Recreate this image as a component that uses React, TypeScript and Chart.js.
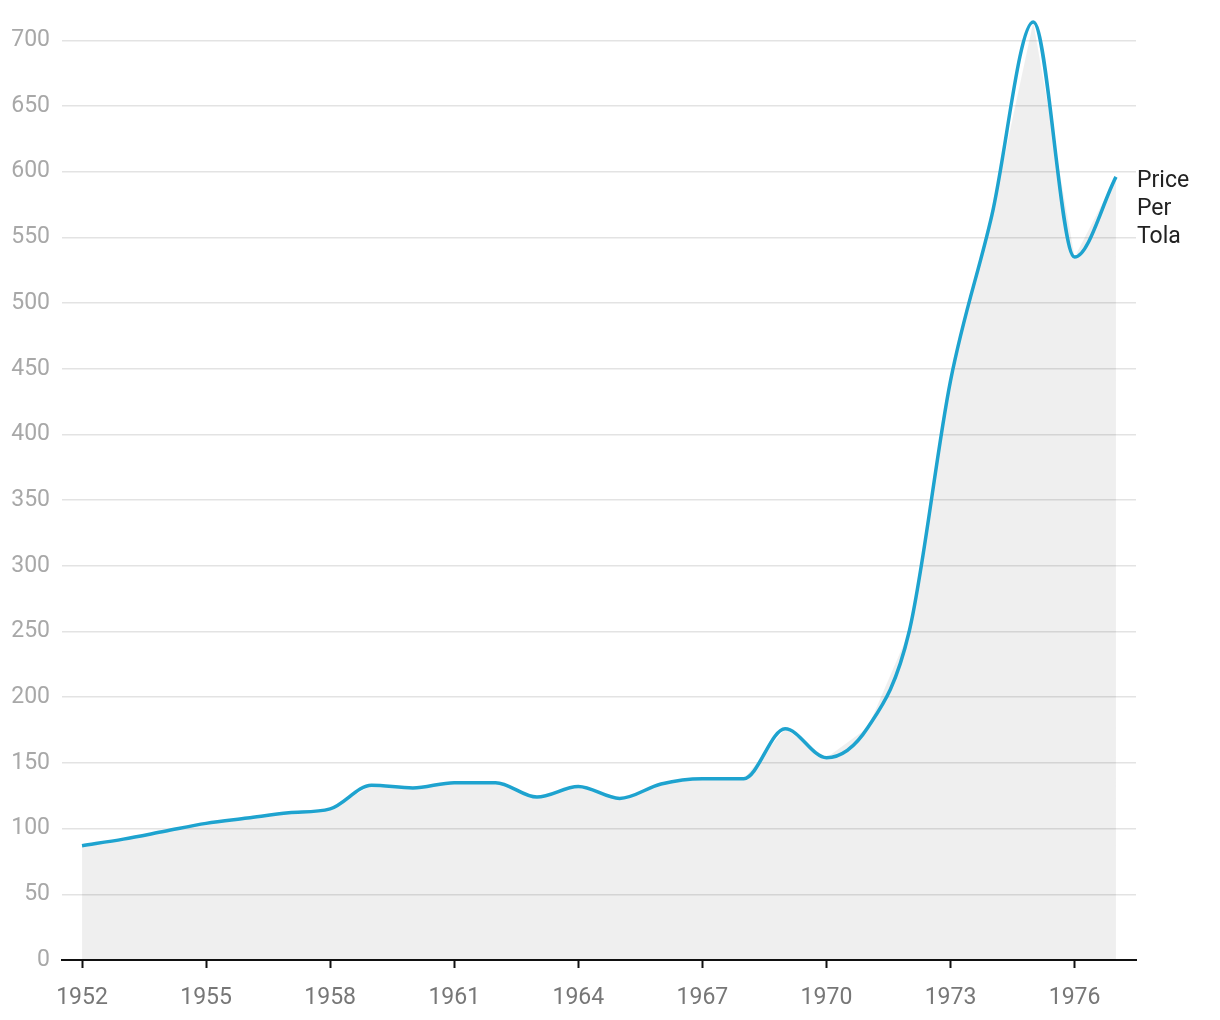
import React, { useEffect, useRef } from "react";
import { Chart, registerables } from "chart.js";

Chart.register(...registerables);

const years: number[] = [1952, 1953, 1954, 1955, 1956, 1957, 1958, 1959, 1960, 1961, 1962, 1963, 1964, 1965, 1966, 1967, 1968, 1969, 1970, 1971, 1972, 1973, 1974, 1975, 1976, 1977];
const pricePerTola: number[] = [87, 92, 98, 104, 108, 112, 115, 133, 131, 135, 135, 124, 132, 123, 134, 138, 138, 176, 154, 177, 250, 441, 567, 714, 535, 596];
const xTickYears: number[] = [1952, 1955, 1958, 1961, 1964, 1967, 1970, 1973, 1976];
const yTickValues: number[] = [0, 50, 100, 150, 200, 250, 300, 350, 400, 450, 500, 550, 600, 650, 700];
const seriesLabel: string[] = ["Price", "Per", "Tola"];

const FONT = "Roboto";

export default function App() {
  const ref = useRef<HTMLCanvasElement | null>(null);

  useEffect(() => {
    if (!ref.current) return;
    const points = years.map((y, i) => ({ x: y, y: pricePerTola[i] }));

    const endLabel = {
      id: "endLabel",
      afterDatasetsDraw(chart: any) {
        const meta = chart.getDatasetMeta(1);
        const last = meta.data[meta.data.length - 1];
        if (!last) return;
        const ctx = chart.ctx;
        ctx.save();
        ctx.font = `23px ${FONT}`;
        ctx.fillStyle = "#222222";
        ctx.textAlign = "left";
        ctx.textBaseline = "middle";
        seriesLabel.forEach((t, i) => {
          ctx.fillText(t, last.x + 21, last.y + 4 + i * 28);
        });
        ctx.restore();
      },
    };

    const chart = new Chart(ref.current, {
      type: "line",
      data: {
        datasets: [
          {
            label: "area",
            data: points,
            fill: "origin",
            backgroundColor: "rgba(0,0,0,0.062)",
            borderWidth: 0,
            pointRadius: 0,
            tension: 0,
            order: 1,
            clip: false,
          },
          {
            label: "Price Per Tola",
            data: points,
            fill: false,
            borderColor: "#1ea3cf",
            borderWidth: 3.5,
            pointRadius: 0,
            cubicInterpolationMode: "monotone",
            order: 0,
            clip: false,
          },
        ],
      },
      options: {
        animation: false,
        responsive: false,
        maintainAspectRatio: false,
        layout: { padding: { top: 14, right: 84, left: 0, bottom: 0 } },
        plugins: {
          legend: { display: false },
          tooltip: { enabled: false },
        },
        scales: {
          x: {
            type: "linear",
            min: 1951.516,
            max: 1977.484,
            afterBuildTicks: (scale: any) => {
              scale.ticks = xTickYears.map((v) => ({ value: v }));
            },
            afterFit: (scale: any) => {
              scale.height = 60;
              scale.paddingLeft = 0;
              scale.paddingRight = 0;
            },
            border: { display: true, color: "#111111", width: 2 },
            grid: {
              drawOnChartArea: false,
              drawTicks: true,
              tickLength: 8,
              tickWidth: 2,
              tickColor: "#111111",
            },
            ticks: {
              color: "#777777",
              font: { family: FONT, size: 23 },
              padding: 16,
              maxRotation: 0,
              autoSkip: false,
              callback: (v: any) => String(v),
            },
          },
          y: {
            type: "linear",
            min: 0,
            max: 720,
            afterBuildTicks: (scale: any) => {
              scale.ticks = yTickValues.map((v) => ({ value: v }));
            },
            afterFit: (scale: any) => {
              scale.width = 62;
              scale.paddingTop = 0;
              scale.paddingBottom = 0;
            },
            border: { display: false },
            grid: {
              color: "#e3e3e3",
              lineWidth: 1.5,
              drawTicks: false,
            },
            ticks: {
              color: "#a8a8a8",
              font: { family: FONT, size: 23 },
              padding: 12,
              autoSkip: false,
            },
          },
        },
      },
      plugins: [endLabel],
    });
    return () => chart.destroy();
  }, []);

  return (
    <div style={{ position: "absolute", left: 0, top: 0, width: 1220, height: 1020, background: "#ffffff" }}>
      <canvas ref={ref} width={1220} height={1020} style={{ width: 1220, height: 1020 }} />
    </div>
  );
}
